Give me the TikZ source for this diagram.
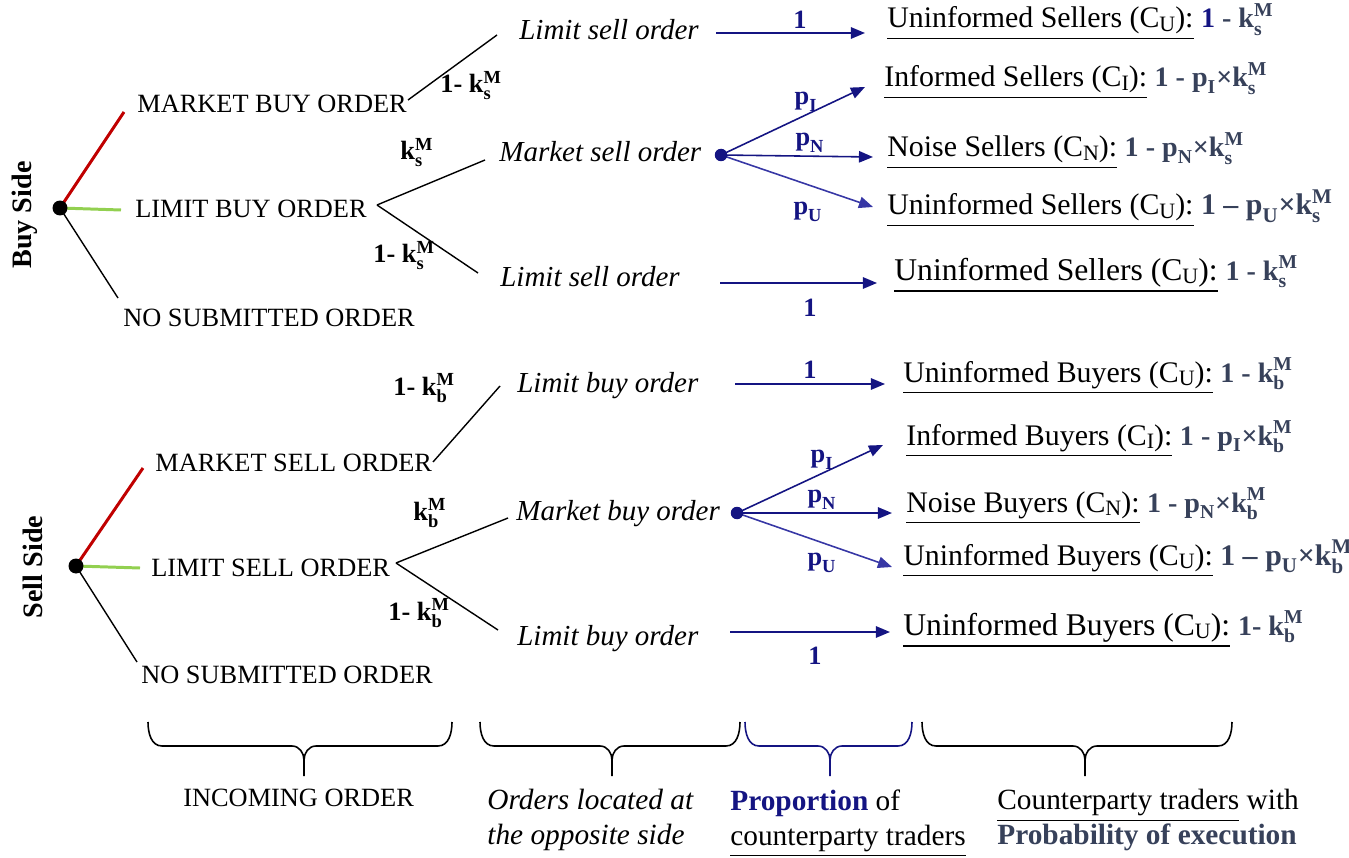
\documentclass[tikz,border=0pt]{standalone}
\usepackage{amsmath}
\usepackage{fontspec}
\setmainfont{Liberation Serif}
\usetikzlibrary{arrows.meta}

\definecolor{navy}{RGB}{20,20,130}
\definecolor{lightnavy}{RGB}{55,55,165}
\definecolor{slate}{RGB}{55,65,90}
\definecolor{mktred}{RGB}{192,0,0}
\definecolor{limgreen}{RGB}{146,208,80}

\newcommand\kM[1]{\textbf{k}$^{\textbf{M}}_{\textbf{#1}}$}
\newcommand\pp[1]{$\textbf{p}_{\textbf{#1}}$}
\newcommand\csub[1]{C\raisebox{-0.25ex}{\fontsize{12.5}{13}\selectfont #1}}
\newcommand\frm[1]{{\fontsize{16}{19}\selectfont\color{slate}#1}}
\newcommand\bracedown[4]{%
  \draw[#1] (#2,722) to[out=-90,in=180] (#2+14,746) -- (#4-12,746)
    to[out=0,in=90] (#4,760) -- (#4,776);
  \draw[#1] (#3,722) to[out=-90,in=0] (#3-14,746) -- (#4+12,746)
    to[out=180,in=90] (#4,760);}

\begin{document}
\begin{tikzpicture}[x=0.02cm,y=-0.02cm,
  every node/.style={inner sep=0pt,font=\fontsize{15}{18}\selectfont},
  lbl/.style={anchor=base west},
  opp/.style={anchor=base west,font=\fontsize{16.5}{18}\selectfont\itshape},
  side/.style={rotate=90,font=\fontsize{16}{18}\selectfont\bfseries},
  dot/.style={circle,fill,minimum size=0.3cm},
  branch/.style={line width=0.8pt},
  arr/.style={navy,line width=0.9pt,-{Triangle[length=8pt,width=6.5pt]}},
  plbl/.style={navy},
  res/.style={anchor=base west,font=\fontsize{17}{19}\selectfont},
  caption/.style={anchor=north west,align=left,font=\fontsize{16.7}{20}\selectfont}]
  \useasboundingbox (0,0) rectangle (1349,858);

  % buy side
  \node[side] (buy) at (25,215) {Buy Side};
  \coordinate (broot) at (60,208);
  \coordinate (bm) at (124,112);
  \coordinate (bl) at (121,210);
  \coordinate (bn) at (118,298);
  \draw[mktred,line width=1.7pt] (broot) -- (bm);
  \draw[limgreen,line width=1.7pt] (broot) -- (bl);
  \draw[branch] (broot) -- (bn);
  \node[dot] (brootdot) at (broot) {};

  \node[lbl] (mbo) at (137,113) {MARKET BUY ORDER};
  \node[lbl] (lbo) at (135,218) {LIMIT BUY ORDER};
  \node[lbl] (nbo) at (123,326) {NO SUBMITTED ORDER};

  \node[opp] (bls1) at (519,40) {Limit sell order};
  \node[opp] (bms) at (499,162) {Market sell order};
  \node[opp] (bls2) at (500,287) {Limit sell order};

  \coordinate (mboe) at (408,100);
  \coordinate (bls1w) at (497,35);
  \coordinate (lboe) at (377,205);
  \coordinate (bmsw) at (485,160);
  \coordinate (bls2w) at (478,273);
  \draw[branch] (mboe) -- (bls1w);
  \draw[branch] (lboe) -- (bmsw);
  \draw[branch] (lboe) -- (bls2w);
  \node[lbl] (bk1) at (440,93) {\textbf{1- }\kM{s}};
  \node[lbl] (bk2) at (400,160) {\kM{s}};
  \node[lbl] (bk3) at (373,263) {\textbf{1- }\kM{s}};

  \coordinate (bdot) at (721,155);
  \coordinate (ba1s) at (716,33);
  \coordinate (ba1e) at (865,33);
  \coordinate (bpi) at (865,87);
  \coordinate (bpn) at (873,157);
  \coordinate (bpu) at (873,207);
  \coordinate (ba2s) at (720,283);
  \coordinate (ba2e) at (877,283);
  \draw[arr] (ba1s) -- (ba1e);
  \draw[arr] (bdot) -- (bpi);
  \draw[arr] (bdot) -- (bpn);
  \draw[arr,lightnavy] (bdot) -- (bpu);
  \draw[arr] (ba2s) -- (ba2e);
  \node[dot,navy,minimum size=0.25cm] (bdotn) at (bdot) {};
  \node[plbl] (b1a) at (800,20) {\textbf{1}};
  \node[plbl] (bpil) at (806,102) {\pp{I}};
  \node[plbl] (bpnl) at (810,143) {\pp{N}};
  \node[plbl] (bpul) at (808,212) {\pp{U}};
  \node[plbl] (b1b) at (810,308) {\textbf{1}};

  \node[res] (bu1) at (887,28) {\underline{Uninformed Sellers (\csub{U}):}
    \frm{\textcolor{navy}{\textbf{1}}\textbf{ - }\kM{s}}};
  \node[res] (bin) at (884,87) {\underline{Informed Sellers (\csub{I}):}
    \frm{\textbf{1 - }\pp{I}\textbf{×}\kM{s}}};
  \node[res] (bno) at (887,157) {\underline{Noise Sellers (\csub{N}):}
    \frm{\textbf{1 - }\pp{N}\textbf{×}\kM{s}}};
  \node[res] (bu2) at (887,215) {\underline{Uninformed Sellers (\csub{U}):}
    \textcolor{slate}{\textbf{1 – }\pp{U}\textbf{×}\kM{s}}};
  \node[res,font=\fontsize{18}{20}\selectfont] (bu3) at (894,280)
    {\underline{Uninformed Sellers (\csub{U}):}
    \frm{\textbf{1 - }\kM{s}}};

  % sell side
  \node[side] (sell) at (33,567) {Sell Side};
  \coordinate (sroot) at (76,566);
  \coordinate (sm) at (143,468);
  \coordinate (sl) at (140,568);
  \coordinate (sn) at (137,662);
  \draw[mktred,line width=1.7pt] (sroot) -- (sm);
  \draw[limgreen,line width=1.7pt] (sroot) -- (sl);
  \draw[branch] (sroot) -- (sn);
  \node[dot] (srootdot) at (sroot) {};

  \node[lbl] (mso) at (155,471) {MARKET SELL ORDER};
  \node[lbl] (lso) at (151,576) {LIMIT SELL ORDER};
  \node[lbl] (nso) at (141,683) {NO SUBMITTED ORDER};

  \node[opp] (slb1) at (517,392) {Limit buy order};
  \node[opp] (smb) at (516,520) {Market buy order};
  \node[opp] (slb2) at (517,645) {Limit buy order};

  \coordinate (msoe) at (433,462);
  \coordinate (slb1w) at (500,386);
  \coordinate (lsoe) at (396,563);
  \coordinate (smbw) at (508,518);
  \coordinate (slb2w) at (498,630);
  \draw[branch] (msoe) -- (slb1w);
  \draw[branch] (lsoe) -- (smbw);
  \draw[branch] (lsoe) -- (slb2w);
  \node[lbl] (sk1) at (393,395) {\textbf{1- }\kM{b}};
  \node[lbl] (sk2) at (413,520) {\kM{b}};
  \node[lbl] (sk3) at (388,620) {\textbf{1- }\kM{b}};

  \coordinate (sdot) at (737,513);
  \coordinate (sa1s) at (735,384);
  \coordinate (sa1e) at (885,384);
  \coordinate (spi) at (883,445);
  \coordinate (spn) at (892,513);
  \coordinate (spu) at (892,567);
  \coordinate (sa2s) at (730,632);
  \coordinate (sa2e) at (890,632);
  \draw[arr] (sa1s) -- (sa1e);
  \draw[arr] (sdot) -- (spi);
  \draw[arr] (sdot) -- (spn);
  \draw[arr,lightnavy] (sdot) -- (spu);
  \draw[arr] (sa2s) -- (sa2e);
  \node[dot,navy,minimum size=0.25cm] (sdotn) at (sdot) {};
  \node[plbl] (s1a) at (810,370) {\textbf{1}};
  \node[plbl] (spil) at (822,460) {\pp{I}};
  \node[plbl] (spnl) at (822,500) {\pp{N}};
  \node[plbl] (spul) at (822,563) {\pp{U}};
  \node[plbl] (s1b) at (815,656) {\textbf{1}};

  \node[res] (su1) at (903,382) {\underline{Uninformed Buyers (\csub{U}):}
    \frm{\textbf{1 - }\kM{b}}};
  \node[res] (sin) at (906,445) {\underline{Informed Buyers (\csub{I}):}
    \frm{\textbf{1 - }\pp{I}\textbf{×}\kM{b}}};
  \node[res] (sno) at (906,512) {\underline{Noise Buyers (\csub{N}):}
    \frm{\textbf{1 - }\pp{N}\textbf{×}\kM{b}}};
  \node[res] (su2) at (903,565) {\underline{Uninformed Buyers (\csub{U}):}
    \textcolor{slate}{\textbf{1 – }\pp{U}\textbf{×}\kM{b}}};
  \node[res,font=\fontsize{18}{20}\selectfont] (su3) at (903,635)
    {\underline{Uninformed Buyers (\csub{U}):}
    \frm{\textbf{1- }\kM{b}}};

  % braces and captions
  \bracedown{line width=0.9pt}{148}{452}{304}
  \bracedown{line width=0.9pt}{480}{740}{612}
  \bracedown{navy,line width=0.9pt}{745}{912}{830}
  \bracedown{line width=0.9pt}{922}{1232}{1085}

  \node[lbl] (cin) at (183,806) {INCOMING ORDER};
  \node[caption,font=\fontsize{16.7}{20}\selectfont\itshape]
    (cop) at (487,789) {Orders located at\\the opposite side};
  \node[caption] (cpr) at (730,789) {\textcolor{navy}{\textbf{Proportion}} of\\
    \underline{counterparty traders}};
  \node[caption] (cct) at (997,789) {\underline{Counterparty traders} with\\
    \textcolor{slate}{\textbf{Probability of execution}}};
\end{tikzpicture}
\end{document}
